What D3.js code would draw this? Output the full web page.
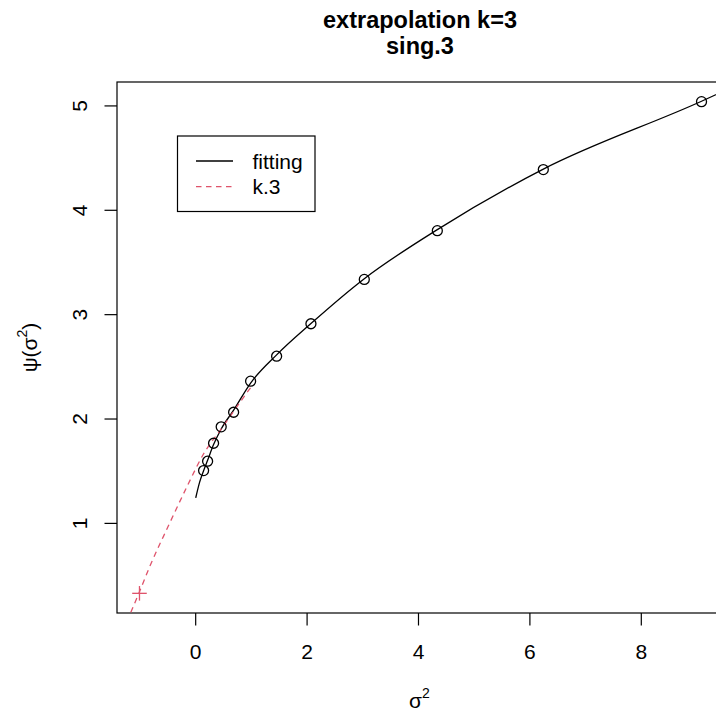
<!DOCTYPE html>
<html>
<head>
<meta charset="utf-8">
<script src="https://cdn.jsdelivr.net/npm/d3@7"></script>
<style>
  html, body { margin: 0; padding: 0; background: #fff; }
  svg { display: block; overflow: hidden; }
  text { font-family: "Liberation Sans", Arial, Helvetica, sans-serif; fill: #000; }
</style>
</head>
<body>
<div id="chart"></div>
<script>
// observed points (sigma^2, psi)
const pointSigma2 = [0.151, 0.223, 0.33, 0.467, 0.69, 0.995, 1.462, 2.078, 3.036, 4.347, 6.25, 9.09];
const pointPsi = [1.501, 1.591, 1.763, 1.92, 2.06, 2.358, 2.597, 2.908, 3.333, 3.8, 4.385, 5.036];

// fitted curve
const fitSigma2 = [0.01, 0.08, 0.151, 0.223, 0.33, 0.467, 0.69, 0.995, 1.462, 2.078, 3.036, 4.347, 6.25, 9.09, 9.5];
const fitPsi = [1.24, 1.39, 1.50, 1.60, 1.75, 1.90, 2.08, 2.34, 2.61, 2.91, 3.34, 3.81, 4.39, 5.04, 5.14];

// k.3 extrapolation (dashed)
const k3Sigma2 = [-1.155, -1.0, -0.814, -0.485, -0.144, 0.144, 0.503, 0.862, 1.0];
const k3Psi = [0.143, 0.34, 0.584, 0.967, 1.351, 1.655, 1.926, 2.198, 2.30];

// extrapolated value at sigma^2 = -1
const extrapSigma2 = [-1];
const extrapPsi = [0.325];

const xTicks = [0, 2, 4, 6, 8];
const yTicks = [1, 2, 3, 4, 5];
const legendLabels = ["fitting", "k.3"];
const titleLines = ["extrapolation k=3", "sing.3"];

const width = 716;
const height = 713;
const red = "#DF536B";

const plot = { left: 117, right: 724, top: 82, bottom: 613 };

const svg = d3.select("#chart")
  .append("svg")
  .attr("width", width)
  .attr("height", height);

// R style axis range: data range widened by 4% on each side
const xExt = d3.extent(pointSigma2.concat(extrapSigma2));
const yExt = d3.extent(pointPsi.concat(extrapPsi));
const xPad = (xExt[1] - xExt[0]) * 0.04;
const yPad = (yExt[1] - yExt[0]) * 0.04;

const xScale = d3.scaleLinear()
  .domain([xExt[0] - xPad, xExt[1] + xPad])
  .range([plot.left, plot.right]);

const yScale = d3.scaleLinear()
  .domain([yExt[0] - yPad, yExt[1] + yPad])
  .range([plot.bottom, plot.top]);

svg.append("defs").append("clipPath")
  .attr("id", "plot-clip")
  .append("rect")
  .attr("x", plot.left)
  .attr("y", plot.top)
  .attr("width", plot.right - plot.left)
  .attr("height", plot.bottom - plot.top);

// title
svg.append("g")
  .selectAll("text")
  .data(titleLines)
  .join("text")
  .attr("x", 420)
  .attr("y", (d, i) => 27.5 + i * 26)
  .attr("text-anchor", "middle")
  .style("font-size", "23.5px")
  .style("font-weight", "bold")
  .text((d) => d);

// axes
const xAxis = d3.axisBottom(xScale).tickValues(xTicks).tickSize(12.5).tickPadding(0).tickFormat(d3.format("d"));
const yAxis = d3.axisLeft(yScale).tickValues(yTicks).tickSize(12.5).tickFormat(d3.format("d"));

const gx = svg.append("g")
  .attr("transform", `translate(0, ${plot.bottom})`)
  .call(xAxis);
gx.select(".domain").remove();
gx.selectAll("line").attr("stroke", "#000").attr("stroke-width", 1.2);
gx.selectAll("text")
  .attr("y", 46)
  .attr("dy", null)
  .style("font-size", "21px")
  .attr("fill", "#000");

const gy = svg.append("g")
  .attr("transform", `translate(${plot.left}, 0)`)
  .call(yAxis);
gy.select(".domain").remove();
gy.selectAll("line").attr("stroke", "#000").attr("stroke-width", 1.2);
gy.selectAll("text")
  .attr("x", null)
  .attr("dy", null)
  .attr("text-anchor", "middle")
  .attr("transform", "translate(-30.5, 0) rotate(-90)")
  .style("font-size", "21px")
  .attr("fill", "#000");

// plot box
svg.append("rect")
  .attr("x", plot.left)
  .attr("y", plot.top)
  .attr("width", plot.right - plot.left)
  .attr("height", plot.bottom - plot.top)
  .attr("fill", "none")
  .attr("stroke", "#000")
  .attr("stroke-width", 1.2);

// axis labels
const xlab = svg.append("text")
  .attr("x", (plot.left + 722) / 2)
  .attr("y", 708)
  .attr("text-anchor", "middle")
  .style("font-size", "21px");
xlab.append("tspan").text("σ");
xlab.append("tspan").attr("dy", -10).style("font-size", "14px").text("2");

const ylab = svg.append("text")
  .attr("transform", `translate(37, ${(plot.top + plot.bottom) / 2}) rotate(-90)`)
  .attr("text-anchor", "middle")
  .style("font-size", "21px");
ylab.append("tspan").text("ψ(σ");
ylab.append("tspan").attr("dy", -10).style("font-size", "14px").text("2");
ylab.append("tspan").attr("dy", 10).text(")");

const inner = svg.append("g").attr("clip-path", "url(#plot-clip)");

const line = d3.line()
  .x((d) => xScale(d[0]))
  .y((d) => yScale(d[1]))
  .curve(d3.curveMonotoneX);

// fitting curve
inner.append("path")
  .datum(d3.zip(fitSigma2, fitPsi))
  .attr("d", line)
  .attr("fill", "none")
  .attr("stroke", "#000")
  .attr("stroke-width", 1.3);

// k.3 dashed extrapolation
inner.append("path")
  .datum(d3.zip(k3Sigma2, k3Psi))
  .attr("d", line)
  .attr("fill", "none")
  .attr("stroke", red)
  .attr("stroke-width", 1.3)
  .attr("stroke-dasharray", "5.5,4.5");

// observed points
inner.append("g")
  .selectAll("circle")
  .data(d3.zip(pointSigma2, pointPsi))
  .join("circle")
  .attr("cx", (d) => xScale(d[0]))
  .attr("cy", (d) => yScale(d[1]))
  .attr("r", 5)
  .attr("fill", "none")
  .attr("stroke", "#000")
  .attr("stroke-width", 1.3);

// extrapolated point (+)
const plus = inner.append("g")
  .selectAll("g")
  .data(d3.zip(extrapSigma2, extrapPsi))
  .join("g")
  .attr("transform", (d) => `translate(${xScale(d[0])}, ${yScale(d[1])})`);
plus.append("line").attr("x1", -7.3).attr("x2", 7.3).attr("stroke", red).attr("stroke-width", 1.3);
plus.append("line").attr("y1", -7.3).attr("y2", 7.3).attr("stroke", red).attr("stroke-width", 1.3);

// legend
const legend = svg.append("g");
legend.append("rect")
  .attr("x", 177.5)
  .attr("y", 136)
  .attr("width", 137.5)
  .attr("height", 75.5)
  .attr("fill", "#fff")
  .attr("stroke", "#000")
  .attr("stroke-width", 1.2);

const legendRows = legend.selectAll("g.row")
  .data(legendLabels)
  .join("g")
  .attr("class", "row")
  .attr("transform", (d, i) => `translate(0, ${161 + i * 25.7})`);

legendRows.append("line")
  .attr("x1", 196)
  .attr("x2", 233)
  .attr("stroke", (d, i) => (i === 0 ? "#000" : red))
  .attr("stroke-width", 1.3)
  .attr("stroke-dasharray", (d, i) => (i === 0 ? null : "5.5,4.5"));

legendRows.append("text")
  .attr("x", 252.5)
  .attr("y", 7.5)
  .style("font-size", "21px")
  .text((d) => d);
</script>
</body>
</html>
